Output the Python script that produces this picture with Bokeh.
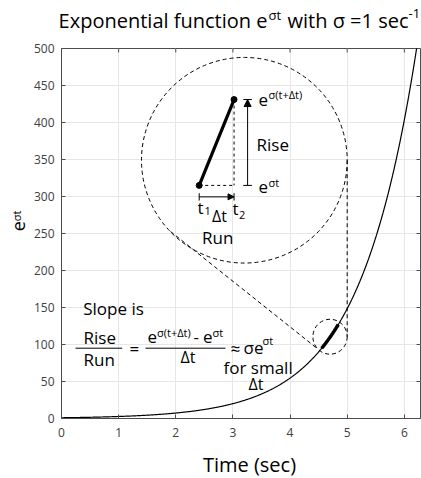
import numpy as np
from bokeh.plotting import figure
from bokeh.layouts import column, row
from bokeh.models import Label, Arrow, NormalHead, FixedTicker, Range1d
from bokeh.embed import file_html
from bokeh.resources import INLINE

# ---- data ----
sigma = 1.0                      # sec^-1 (from the title)
t_max = 2 * np.pi
time = np.linspace(0, t_max, 800)
values = np.exp(sigma * time)

x_ticks = [0, 1, 2, 3, 4, 5, 6]
y_ticks = [0, 50, 100, 150, 200, 250, 300, 350, 400, 450, 500]

highlight_t = [4.55, 4.85]        # thick piece of the curve
small_circle = [4.7, 110.5, 0.3, 23.6]   # centre t, centre y, radius t, radius y
big_circle = [3.2, 349.0, 1.8, 139.0]
link_t = [1.908, 4.486]           # dashed connector line (big circle -> small circle)
link_y = [252.7, 93.9]
tangent_t = [5.0, 5.0]
tangent_y = [349.0, 110.5]

inset_t = [2.41, 3.02]            # magnified chord
inset_y = [315.0, 431.0]
rise_t = 3.257
run_y = 299.5

FONT = "Open Sans"
AX = "#4d4d4d"
W, H = 421, 478
LEFT_W = 30            # strip holding the y label
TOP_H = 36             # strip holding the title
BOT_Y = 445            # page y where the x-label strip starts
FX0, FX1, FY_TOP, FY0 = 61, 420, 48, 418   # frame edges in page pixels
DESC = 0.3             # text sits this many font-sizes below the requested baseline

MAIN_W = W - LEFT_W
MAIN_H = BOT_Y - TOP_H

p = figure(width=MAIN_W, height=MAIN_H, x_range=Range1d(0, t_max), y_range=Range1d(0, 500),
           output_backend="svg", toolbar_location=None, title=None,
           min_border_left=FX0 - LEFT_W, min_border_right=W - FX1,
           min_border_top=FY_TOP - TOP_H, min_border_bottom=BOT_Y - FY0)
p.background_fill_color = "white"
p.border_fill_color = "white"
p.outline_line_color = AX
p.xaxis.ticker = FixedTicker(ticks=x_ticks)
p.yaxis.ticker = FixedTicker(ticks=y_ticks)
p.xgrid.ticker = FixedTicker(ticks=x_ticks)
p.ygrid.ticker = FixedTicker(ticks=y_ticks)
p.xgrid.grid_line_color = "#e6e6e6"
p.ygrid.grid_line_color = "#e6e6e6"
for ax in p.axis:
    ax.major_tick_in = 4
    ax.major_tick_out = 0
    ax.minor_tick_in = 0
    ax.minor_tick_out = 0
    ax.axis_line_color = AX
    ax.major_tick_line_color = AX
    ax.major_label_text_font = FONT
    ax.major_label_text_font_size = "12px"
    ax.major_label_text_color = "#404040"
p.xaxis.major_label_standoff = 9
p.yaxis.major_label_standoff = 7

# mirrored ticks on the top and right edges of the box
ppx = (FX1 - FX0) / t_max
ppy = (FY0 - FY_TOP) / 500.0
p.segment(x0=x_ticks, y0=[500] * len(x_ticks), x1=x_ticks, y1=[500 - 4 / ppy] * len(x_ticks),
          line_color=AX, line_width=1)
p.segment(x0=[t_max] * len(y_ticks), y0=y_ticks, x1=[t_max - 4 / ppx] * len(y_ticks), y1=y_ticks,
          line_color=AX, line_width=1)

# curve
p.line(time, values, line_color="black", line_width=1.2)
ht = time[(time >= highlight_t[0]) & (time <= highlight_t[1])]
p.line(ht, np.exp(sigma * ht), line_color="black", line_width=3.5)

# dashed zoom circles and connectors
p.ellipse(x=[small_circle[0]], y=[small_circle[1]], width=[2 * small_circle[2]], height=[2 * small_circle[3]],
          fill_color=None, line_color="black", line_dash="4 3", line_width=1)
p.ellipse(x=[big_circle[0]], y=[big_circle[1]], width=[2 * big_circle[2]], height=[2 * big_circle[3]],
          fill_color=None, line_color="black", line_dash="4 3", line_width=1)
p.line(link_t, link_y, line_color="black", line_dash="4 3", line_width=1)
p.line(tangent_t, tangent_y, line_color="black", line_dash="4 3", line_width=1)

# inset chord
p.line(inset_t, inset_y, line_color="black", line_width=3.2)
p.scatter(inset_t, inset_y, size=6, color="black")
p.line([inset_t[0], inset_t[1]], [inset_y[0], inset_y[0]], line_color="black", line_dash="3 3", line_width=1)
p.line([inset_t[1], inset_t[1]], [inset_y[1], inset_y[0]], line_color="black", line_dash="3 3", line_width=1)

# rise arrow with end bars
p.add_layout(Arrow(end=NormalHead(size=7, fill_color="black", line_color="black"),
                   x_start=rise_t, y_start=inset_y[0], x_end=rise_t, y_end=inset_y[1],
                   line_color="black", line_width=1))
dx = 0.075
p.segment(x0=[rise_t - dx, rise_t - dx], y0=[inset_y[0], inset_y[1]],
          x1=[rise_t + dx, rise_t + dx], y1=[inset_y[0], inset_y[1]], line_color="black", line_width=1)
# run arrow with end bars
p.add_layout(Arrow(end=NormalHead(size=6, fill_color="black", line_color="black"),
                   x_start=inset_t[0], y_start=run_y, x_end=inset_t[1], y_end=run_y,
                   line_color="black", line_width=1))
dy = 5
p.segment(x0=[inset_t[0], inset_t[1]], y0=[run_y - dy, run_y - dy],
          x1=[inset_t[0], inset_t[1]], y1=[run_y + dy, run_y + dy], line_color="black", line_width=1)


def to_t(xi):
    return (xi - FX0) / ppx


def to_y(yi):
    return (FY0 - yi) / ppy


# fraction bars
p.segment(x0=[to_t(75), to_t(145)], y0=[to_y(347.7), to_y(347.7)],
          x1=[to_t(121.7), to_t(225)], y1=[to_y(347.7), to_y(347.7)], line_color="black", line_width=1)


def txt(fig, s, xi, yi, size, align="left", angle=0.0, units="frame"):
    # (xi, yi) is the wanted baseline start in page pixels
    if angle == 0.0:
        yi = yi - DESC * size
    else:
        xi = xi - DESC * size
    if units == "frame":   # main plot: page pixels -> screen offsets from frame bottom-left
        kw = dict(x=xi - FX0, y=FY0 - yi, x_units="screen", y_units="screen")
    else:                  # helper strips: data coordinates are page pixels
        kw = dict(x=xi, y=yi)
    fig.add_layout(Label(text=s, text_font=FONT, text_font_size=f"{size}px", text_align=align,
                         text_baseline="alphabetic", text_color="black", angle=angle, **kw))


def strip(w, h, x0, y0):
    f = figure(width=w, height=h, x_range=Range1d(x0, x0 + w), y_range=Range1d(y0 + h, y0),
               output_backend="svg", toolbar_location=None, title=None,
               x_axis_type=None, y_axis_type=None,
               min_border_left=0, min_border_right=0, min_border_top=0, min_border_bottom=0)
    f.outline_line_color = None
    f.grid.visible = False
    f.background_fill_color = "white"
    f.border_fill_color = "white"
    return f


top = strip(W, TOP_H, 0, 0)
left = strip(LEFT_W, MAIN_H, 0, TOP_H)
bottom = strip(W, H - BOT_Y, 0, BOT_Y)

# title
txt(top, "Exponential function e", 267, 26, 20, align="right", units="page")
txt(top, "σt", 268, 18, 13, units="page")
txt(top, "with σ =1 sec", 287, 26, 20, units="page")
txt(top, "-1", 408, 17, 13, units="page")
# axis labels
txt(bottom, "Time (sec)", 249, 470, 20, align="center", units="page")
txt(left, "e", 23.5, 238, 18, angle=np.pi / 2, units="page")
txt(left, "σt", 19.5, 227, 11, angle=np.pi / 2, units="page")

# inset labels
txt(p, "e", 258, 105, 17)
txt(p, "σ(t+Δt)", 268, 97.7, 11)
txt(p, "Rise", 256, 149.3, 17)
txt(p, "e", 258, 191.7, 17)
txt(p, "σt", 268, 185, 11)
txt(p, "t", 197, 212, 17)
txt(p, "1", 204, 214, 11)
txt(p, "Δt", 211.5, 220, 16)
txt(p, "t", 232, 213, 17)
txt(p, "2", 238.5, 218, 11)
txt(p, "Run", 201.5, 241.7, 17)

# slope formula
txt(p, "Slope is", 82.7, 313.3, 17)
txt(p, "Rise", 83, 341.7, 17)
txt(p, "Run", 83, 364, 17)
txt(p, "=", 129, 353, 17)
txt(p, "e", 147, 341.7, 17)
txt(p, "σ(t+Δt)", 156.5, 335, 11)
txt(p, "-", 193, 341.7, 17)
txt(p, "e", 202.5, 341.7, 17)
txt(p, "σt", 212, 335, 11)
txt(p, "Δt", 180, 361.7, 16)
txt(p, "≈", 230, 352.6, 17)
txt(p, "σe", 243, 351.7, 17)
txt(p, "σt", 262, 343, 11)
txt(p, "for small", 223, 371.7, 17)
txt(p, "Δt", 248, 388, 16)

layout = column(top, row(left, p), bottom)
open("out.html", "w").write(file_html(layout, INLINE))
